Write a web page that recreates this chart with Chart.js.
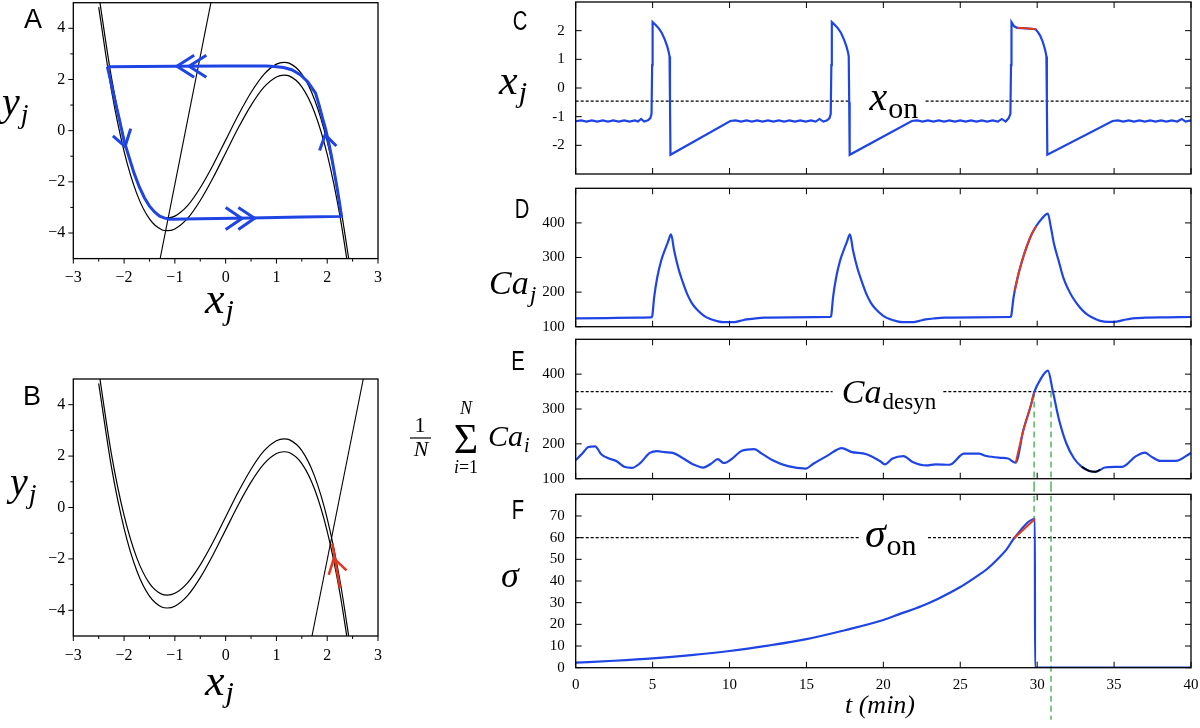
<!DOCTYPE html>
<html lang="en">
<head>
<meta charset="UTF-8">
<title>Phase plane and desynchronisation</title>
<script src="https://cdn.jsdelivr.net/npm/chart.js"></script>
<style>
  body { margin: 0; background: #fff; }
  #fig { position: relative; width: 1200px; height: 728px; overflow: hidden; }
  canvas { position: absolute; }
</style>
</head>
<body>
<div id="fig">
  <canvas id="chartA" width="400" height="330" style="left:0;top:0"></canvas>
  <canvas id="chartB" width="400" height="388" style="left:0;top:340px"></canvas>
  <canvas id="chartC" width="720" height="182" style="left:480px;top:0"></canvas>
  <canvas id="chartD" width="720" height="150" style="left:480px;top:182px"></canvas>
  <canvas id="chartE" width="800" height="155" style="left:400px;top:332px"></canvas>
  <canvas id="chartF" width="720" height="241" style="left:480px;top:487px"></canvas>
</div>
<script>
// ---- phase plane (A, B) ----
const phaseXTicks = [-3, -2, -1, 0, 1, 2, 3];
const phaseYTicks = [-4, -2, 0, 2, 4];
const cubicX     = [-2.5, -2.25, -2, -1.75, -1.5, -1.25, -1.15, -1, -0.75, -0.5, -0.25, 0, 0.25, 0.5, 0.75, 1, 1.15, 1.25, 1.5, 1.75, 2, 2.25, 2.45];
const cubicUpper = [5.33, 2.09, -0.31, -1.96, -2.95, -3.38, -3.41, -3.34, -2.93, -2.23, -1.35, -0.37, 0.61, 1.49, 2.19, 2.60, 2.67, 2.64, 2.21, 1.22, -0.43, -2.83, -5.35];
const cubicLower = [4.83, 1.59, -0.81, -2.46, -3.45, -3.88, -3.91, -3.84, -3.43, -2.73, -1.85, -0.87, 0.11, 0.99, 1.69, 2.10, 2.17, 2.14, 1.71, 0.72, -0.93, -3.33, -5.85];
const nullAX = [-1.29, -0.29];
const nullBX = [1.70, 2.71];
const nullY  = [-5, 5];

const orbitX = [-2.33, -2.27, -2.2, -2.1, -2.0, -1.9, -1.8, -1.7, -1.6, -1.5, -1.4, -1.3, -1.2, -1.1,
  -0.5, 0.5, 1.5, 2.28, 2.24, 2.2, 2.16, 2.12, 2.08, 2.03, 1.97, 1.9, 1.84, 1.77, 1.62, 1.47, 1.3, 1.14, 0.95, 0.81, 0, -1, -2.33];
const orbitY = [2.5, 2.0, 1.35, 0.5, -0.4, -1.05, -1.68, -2.2, -2.62, -2.95, -3.18, -3.34, -3.42, -3.46,
  -3.44, -3.41, -3.37, -3.35, -2.8, -2.3, -1.85, -1.4, -0.95, -0.48, 0.05, 0.55, 1.0, 1.47, 1.9, 2.19, 2.38, 2.47, 2.51, 2.53, 2.53, 2.52, 2.5];
const chevronAX = [[-0.62, -0.96, -0.62], [-0.38, -0.72, -0.38], [0.0, 0.32, 0.0], [0.25, 0.57, 0.25], [-2.22, -1.98, -1.87], [1.85, 1.96, 2.18]];
const chevronAY = [[2.95, 2.52, 2.09], [2.95, 2.52, 2.09], [-3.0, -3.43, -3.86], [-3.0, -3.42, -3.86], [-0.2, -0.62, 0.08], [-0.78, -0.16, -0.6]];
const redBX = [2.25, 2.2, 2.15, 2.1];
const redBY = [-3.12, -2.55, -1.95, -1.4];
const chevronBX = [2.03, 2.13, 2.38];
const chevronBY = [-2.62, -1.98, -2.45];

// ---- time courses (C-F) ----
const timeTicks = [0, 5, 10, 15, 20, 25, 30, 35, 40];
const cTicks = [-2, -1, 0, 1, 2];
const caTicks = [100, 200, 300, 400];
const sigmaTicks = [0, 10, 20, 30, 40, 50, 60, 70];

const cT = [0, 0.35, 0.7, 1.05, 1.4, 1.75, 2.1, 2.45, 2.8, 3.15, 3.5, 3.85, 4.05, 4.25, 4.45, 4.7, 4.85, 4.93,
  4.97, 5.0, 5.2, 5.4, 5.6, 5.8, 5.95, 6.05, 6.1, 6.13, 6.16, 10.05,
  10.4, 10.75, 11.1, 11.45, 11.8, 12.15, 12.5, 12.85, 13.2, 13.55, 13.9, 14.25, 14.6, 14.95, 15.3, 15.6, 15.85, 16.1, 16.35, 16.5, 16.58,
  16.62, 16.65, 16.85, 17.05, 17.25, 17.45, 17.6, 17.7, 17.75, 17.78, 17.81, 21.85,
  22.2, 22.55, 22.9, 23.25, 23.6, 23.95, 24.3, 24.65, 25.0, 25.35, 25.7, 26.05, 26.4, 26.75, 27.1, 27.45, 27.7, 27.95, 28.15, 28.26,
  28.3, 28.33, 28.5, 28.7, 29.3, 29.9, 30.05, 30.2, 30.35, 30.47, 30.55, 30.6, 30.63, 30.66, 34.9,
  35.25, 35.6, 35.95, 36.3, 36.65, 37.0, 37.35, 37.7, 38.05, 38.4, 38.75, 39.1, 39.4, 39.65, 40];
const cX = [-1.16, -1.13, -1.17, -1.13, -1.17, -1.13, -1.17, -1.13, -1.17, -1.13, -1.17, -1.13, -1.17, -1.08, -1.17, -1.13, -1.05, -0.9,
  0.8, 2.3, 2.2, 2.08, 1.92, 1.68, 1.45, 1.25, 1.1, -0.5, -2.33, -1.15,
  -1.13, -1.17, -1.13, -1.17, -1.13, -1.17, -1.13, -1.17, -1.13, -1.17, -1.13, -1.17, -1.13, -1.17, -1.13, -1.17, -1.08, -1.17, -1.13, -1.05, -0.9,
  0.8, 2.3, 2.2, 2.08, 1.92, 1.68, 1.45, 1.25, 1.1, -0.5, -2.33, -1.15,
  -1.13, -1.17, -1.13, -1.17, -1.13, -1.17, -1.13, -1.17, -1.13, -1.17, -1.13, -1.17, -1.13, -1.17, -1.13, -1.17, -1.08, -1.17, -1.05, -0.9,
  0.8, 2.3, 2.15, 2.10, 2.08, 2.05, 1.95, 1.82, 1.63, 1.42, 1.25, 1.1, -0.5, -2.33, -1.15,
  -1.13, -1.17, -1.13, -1.17, -1.13, -1.17, -1.13, -1.17, -1.13, -1.17, -1.13, -1.17, -1.08, -1.17, -1.13];
const cRedT = [28.7, 29.0, 29.3, 29.6, 29.9];
const cRedX = [2.10, 2.09, 2.08, 2.07, 2.05];
const xOn = -0.46;

const dT = [0, 2, 4, 4.9, 4.97, 5.1, 5.3, 5.55, 5.8, 6.0, 6.2, 6.4, 6.66, 6.95, 7.25, 7.55, 7.85, 8.3, 8.75, 9.2,
  9.6, 10.2, 10.7, 11.1, 11.7, 12.3, 14, 16.5, 16.6, 16.73, 16.93, 17.18, 17.43, 17.63, 17.83, 18.03, 18.3, 18.6, 18.9, 19.2,
  19.5, 19.95, 20.4, 20.85, 21.25, 21.85, 22.35, 22.75, 23.35, 24, 26, 28.25, 28.3, 28.45, 28.54, 28.8, 29.05, 29.35, 29.64, 29.94,
  30.3, 30.69, 30.9, 31.1, 31.4, 31.7, 32.0, 32.3, 32.75, 33.2, 33.65, 34.1, 34.6, 35.0, 35.6, 36.2, 37, 38.5, 40];
const dCa = [124, 125, 126, 127, 130, 185, 242, 290, 322, 345, 367, 320, 271, 230, 194, 168, 151, 133, 122, 116,
  113, 113, 117, 121, 124, 126, 127, 128, 130, 185, 242, 290, 322, 345, 367, 320, 271, 230, 194, 168,
  151, 133, 122, 116, 113, 113, 117, 121, 124, 126, 127, 128, 130, 180, 204, 255, 295, 335, 367, 391,
  412, 427, 385, 338, 290, 242, 210, 185, 157, 137, 125, 117, 114, 114, 119, 124, 126, 127, 128];
const dRedT = [28.54, 28.8, 29.05, 29.35, 29.64, 29.94];
const dRedCa = [204, 255, 295, 335, 367, 391];

const eT = [0, 0.43, 0.83, 1.26, 1.66, 2.16, 2.66, 3.16, 3.65, 4.15, 4.82, 5.3, 5.8, 6.3, 7.0, 7.64, 8.3, 8.8, 9.24, 9.63,
  10.1, 10.8, 11.6, 12.1, 12.8, 13.8, 14.95, 15.45, 16.4, 17.3, 17.9, 18.9, 19.8, 20.1, 20.6, 21.3, 21.9, 22.8, 23.4, 24.3,
  25.25, 26.2, 26.7, 27.6, 28.1, 28.6, 29.1, 29.6, 29.8, 30.2, 30.7, 31.0, 31.4, 31.9, 32.4, 32.9, 33.4, 33.8, 34.4, 35.05,
  35.5, 36.4, 37.0, 37.4, 38.0, 39.0, 40];
const eCa = [153, 172, 191, 193, 170, 158, 150, 134, 131, 143, 174, 179, 176, 174, 158, 141, 132, 143, 156, 145,
  155, 180, 185, 172, 153, 136, 129, 143, 167, 188, 177, 170, 150, 141, 158, 165, 148, 138, 141, 140,
  172, 172, 165, 160, 158, 146, 239, 312, 347, 384, 410, 355, 273, 201, 158, 134, 122, 120, 132, 134,
  134, 164, 175, 164, 151, 151, 174];
const eRedT = [28.6, 29.1, 29.6, 29.8];
const eRedCa = [146, 239, 312, 347];
const eBlackT = [32.9, 33.4, 33.8, 34.1];
const eBlackCa = [134, 122, 120, 126];
const caDesyn = 350;

const fT = [0, 2.5, 5, 7.5, 10, 12.5, 15, 17.5, 20, 21, 22.5, 23.5, 25, 26, 26.7, 27.55, 28, 28.5, 29.85, 29.86, 40];
const fSigma = [2.3, 3.2, 4.3, 5.8, 7.7, 10.2, 13.2, 17.3, 22, 24.6, 28.5, 31.6, 37.2, 41.8, 45.3, 51, 54.5, 59.7, 68.6, 0, 0];
const fRedT = [28.5, 29.85];
const fRedSigma = [59.7, 68.6];
const sigmaOn = 60;

const desynT = [29.8, 30.9];   // green markers

// ---- styling ----
const SERIF = '"Liberation Serif", "Times New Roman", serif';
Chart.defaults.font.family = SERIF;
const BLUE = '#1e45e4';
const RED = '#e4371c';
const GREEN = '#3aa84a';
const it = px => `italic ${px}px ${SERIF}`;
const rm = px => `${px}px ${SERIF}`;
const LETTER = '27px "Liberation Sans", Arial, sans-serif';

const pts = (xs, ys) => xs.map((x, i) => ({ x: x, y: ys[i] }));
const minusFmt = v => (v < 0 ? '\u2212' + (-v) : String(v));

function line(data, color, width, extra) {
  return Object.assign({ data: data, borderColor: color, borderWidth: width, pointRadius: 0,
    fill: false, tension: 0 }, extra || {});
}

function drawRuns(ctx, x, y, runs, align, sx) {
  sx = sx || 1;
  let w = 0;
  runs.forEach(r => { ctx.font = r.font; r.w = ctx.measureText(r.text).width * sx; w += r.w + (r.gap || 0); });
  let cx = align === 'center' ? x - w / 2 : x;
  runs.forEach(r => {
    ctx.font = r.font;
    cx += r.gap || 0;
    ctx.save();
    ctx.translate(cx, y + (r.dy || 0));
    ctx.scale(sx, 1);
    ctx.fillText(r.text, 0, 0);
    ctx.restore();
    cx += r.w;
  });
}

// frame, ticks and math labels
const decor = {
  id: 'decor',
  afterDatasetsDraw(chart, args, o) {
    const ctx = chart.ctx, a = chart.chartArea;
    const xs = chart.scales.x, ys = chart.scales.y;
    ctx.save();
    ctx.strokeStyle = '#000';
    ctx.lineWidth = 1.3;
    ctx.strokeRect(a.left, a.top, a.right - a.left, a.bottom - a.top);
    ctx.lineWidth = 1;
    ctx.beginPath();
    const L = o.len || 6;
    if (o.inward) {
      xs.ticks.forEach(t => {
        const p = xs.getPixelForValue(t.value);
        ctx.moveTo(p, a.bottom); ctx.lineTo(p, a.bottom - L);
        ctx.moveTo(p, a.top); ctx.lineTo(p, a.top + L);
      });
      ys.ticks.forEach(t => {
        const p = ys.getPixelForValue(t.value);
        ctx.moveTo(a.left, p); ctx.lineTo(a.left + L, p);
        ctx.moveTo(a.right, p); ctx.lineTo(a.right - L, p);
      });
    } else {
      xs.ticks.forEach(t => { const p = xs.getPixelForValue(t.value); ctx.moveTo(p, a.bottom); ctx.lineTo(p, a.bottom + L); });
      ys.ticks.forEach(t => { const p = ys.getPixelForValue(t.value); ctx.moveTo(a.left, p); ctx.lineTo(a.left - L, p); });
      (o.minorX || []).forEach(v => { const p = xs.getPixelForValue(v); ctx.moveTo(p, a.bottom); ctx.lineTo(p, a.bottom + 3); });
      (o.minorY || []).forEach(v => { const p = ys.getPixelForValue(v); ctx.moveTo(a.left, p); ctx.lineTo(a.left - 3, p); });
    }
    ctx.stroke();
    ctx.fillStyle = '#000';
    ctx.textBaseline = 'alphabetic';
    ctx.textAlign = 'left';
    (o.labels || []).forEach(l => {
      let x = l.x, y = l.y;
      if (l.tx !== undefined) { x = xs.getPixelForValue(l.tx); y = ys.getPixelForValue(l.ty) + (l.dy || 0); }
      if (l.rule) {
        ctx.beginPath(); ctx.lineWidth = 1.2;
        ctx.moveTo(l.rule[0], l.rule[2]); ctx.lineTo(l.rule[1], l.rule[2]); ctx.stroke();
        return;
      }
      drawRuns(ctx, x, y, l.runs, l.align, l.sx);
    });
    ctx.restore();
  }
};

function makeChart(id, c) {
  const tickFont = { family: SERIF, size: c.tickSize || 15 };
  return new Chart(document.getElementById(id), {
    type: 'line',
    data: { datasets: c.datasets },
    options: {
      responsive: false,
      animation: false,
      events: [],
      layout: { autoPadding: false, padding: c.pad },
      plugins: { legend: { display: false }, tooltip: { enabled: false }, decor: c.decor },
      elements: { point: { radius: 0 } },
      scales: {
        x: {
          type: 'linear', min: c.xMin, max: c.xMax,
          afterBuildTicks: s => { s.ticks = c.xTicks.map(v => ({ value: v })); },
          afterFit: s => { s.height = c.xHeight; s.paddingLeft = 0; s.paddingRight = 0; },
          grid: { display: false, drawTicks: false }, border: { display: false },
          ticks: { display: !!c.xLabels, padding: c.xPad || 8, color: '#000', font: tickFont,
            callback: v => (c.fmt ? c.fmt(v) : String(v)) }
        },
        y: {
          type: 'linear', min: c.yMin, max: c.yMax,
          afterBuildTicks: s => { s.ticks = c.yTicks.map(v => ({ value: v })); },
          afterFit: s => { s.width = c.yWidth; s.paddingTop = 0; s.paddingBottom = 0; },
          grid: { display: false, drawTicks: false }, border: { display: false },
          ticks: { padding: c.yPad || 11, color: '#000', font: tickFont,
            callback: v => (c.fmt ? c.fmt(v) : String(v)) }
        }
      }
    },
    plugins: [decor]
  });
}

function hline(v, from, to) {
  return line([{ x: from, y: v }, { x: to, y: v }], '#000', 1.3, { borderDash: [3, 2], order: 5 });
}

const halfSteps = [-2.5, -1.5, -0.5, 0.5, 1.5, 2.5];
const oddSteps = [-3, -1, 1, 3];
const xjTitle = [{ text: 'x', font: it(44) }, { text: 'j', font: it(30), dy: 7, gap: 1 }];
const yjTitle = [{ text: 'y', font: it(40) }, { text: 'j', font: it(28), dy: 8, gap: 1 }];
const letter = (x, y, t, sx) => ({ x: x, y: y, align: 'center', sx: sx, runs: [{ text: t, font: LETTER }] });

// ---- A ----
makeChart('chartA', {
  xMin: -3, xMax: 3, yMin: -5, yMax: 5, xTicks: phaseXTicks, yTicks: phaseYTicks,
  yWidth: 73.3, xHeight: 71.4, pad: { left: 0, top: 2.7, right: 22, bottom: 0 },
  xLabels: true, xPad: 10, yPad: 8, tickSize: 16, fmt: minusFmt,
  datasets: [
    ...chevronAX.map((xs, i) => line(pts(xs, chevronAY[i]), BLUE, 3, { order: 0 })),
    line(pts(orbitX, orbitY), BLUE, 3, { order: 1 }),
    line(pts(cubicX, cubicUpper), '#000', 1.2, { cubicInterpolationMode: 'monotone', order: 2 }),
    line(pts(cubicX, cubicLower), '#000', 1.2, { cubicInterpolationMode: 'monotone', order: 2 }),
    line(pts(nullAX, nullY), '#000', 1.1, { order: 2 })
  ],
  decor: {
    len: 5, minorX: halfSteps, minorY: oddSteps,
    labels: [
      letter(33, 28, 'A'),
      { x: 205, y: 313, runs: xjTitle },
      { x: 2, y: 115, runs: yjTitle }
    ]
  }
});

// ---- B ----
makeChart('chartB', {
  xMin: -3, xMax: 3, yMin: -5, yMax: 5, xTicks: phaseXTicks, yTicks: phaseYTicks,
  yWidth: 73.3, xHeight: 92, pad: { left: 0, top: 39, right: 22, bottom: 0 },
  xLabels: true, xPad: 10, yPad: 8, tickSize: 16, fmt: minusFmt,
  datasets: [
    line(pts(chevronBX, chevronBY), RED, 2.5, { order: 0 }),
    line(pts(redBX, redBY), RED, 2.5, { order: 0 }),
    line(pts(cubicX, cubicUpper), '#000', 1.2, { cubicInterpolationMode: 'monotone', order: 2 }),
    line(pts(cubicX, cubicLower), '#000', 1.2, { cubicInterpolationMode: 'monotone', order: 2 }),
    line(pts(nullBX, nullY), '#000', 1.1, { order: 2 })
  ],
  decor: {
    len: 5, minorX: halfSteps, minorY: oddSteps,
    labels: [
      letter(32, 65, 'B'),
      { x: 205, y: 355, runs: xjTitle },
      { x: 10, y: 155, runs: yjTitle }
    ]
  }
});

// ---- C ----
makeChart('chartC', {
  xMin: 0, xMax: 40, yMin: -3, yMax: 3, xTicks: timeTicks, yTicks: cTicks,
  yWidth: 95.7, xHeight: 8, pad: { left: 0, top: 2, right: 9, bottom: 0 },
  datasets: [
    line(pts(cRedT, cRedX), RED, 2, { order: 0 }),
    line(pts(cT, cX), BLUE, 2.2, { order: 1 }),
    hline(xOn, 0, 17.8), hline(xOn, 22.75, 40)
  ],
  decor: {
    inward: true, len: 6,
    labels: [
      letter(40, 30, 'C', 0.75),
      { x: 19, y: 94, runs: [{ text: 'x', font: it(42) }, { text: 'j', font: it(30), dy: 8, gap: 1 }] },
      { tx: 19.1, ty: xOn, dy: 9, runs: [{ text: 'x', font: it(40) }, { text: 'on', font: rm(30), dy: 8, gap: 1 }] }
    ]
  }
});

// ---- D ----
makeChart('chartD', {
  xMin: 0, xMax: 40, yMin: 100, yMax: 500, xTicks: timeTicks, yTicks: caTicks,
  yWidth: 95.7, xHeight: 5.3, pad: { left: 0, top: 6.3, right: 9, bottom: 0 },
  datasets: [
    line(pts(dRedT, dRedCa), RED, 2, { cubicInterpolationMode: 'monotone', order: 0 }),
    line(pts(dT, dCa), BLUE, 2.2, { cubicInterpolationMode: 'monotone', order: 1 })
  ],
  decor: {
    inward: true, len: 6,
    labels: [
      letter(42, 36, 'D', 0.75),
      { x: 9, y: 112, runs: [{ text: 'Ca', font: it(34) }, { text: 'j', font: it(24), dy: 8, gap: 1 }] }
    ]
  }
});

// ---- E ----
makeChart('chartE', {
  xMin: 0, xMax: 40, yMin: 100, yMax: 500, xTicks: timeTicks, yTicks: caTicks,
  yWidth: 175.7, xHeight: 8.3, pad: { left: 0, top: 7.3, right: 9, bottom: 0 },
  datasets: [
    line(pts(eRedT, eRedCa), RED, 1.8, { cubicInterpolationMode: 'monotone', order: 0 }),
    line(pts(eBlackT, eBlackCa), '#000', 1.8, { cubicInterpolationMode: 'monotone', order: 0 }),
    line(pts(eT, eCa), BLUE, 2.2, { cubicInterpolationMode: 'monotone', order: 1 }),
    hline(caDesyn, 0, 16.7), hline(caDesyn, 23.9, 40),
    ...desynT.map(t => line([{ x: t, y: caDesyn }, { x: t, y: 75 }], GREEN, 1.3,
      { borderDash: [6, 4], clip: false, order: 3 }))
  ],
  decor: {
    inward: true, len: 6,
    labels: [
      letter(118, 38, 'E', 0.75),
      { x: 20, y: 100, align: 'center', runs: [{ text: '1', font: rm(22) }] },
      { rule: [10, 31, 106] },
      { x: 21, y: 124, align: 'center', runs: [{ text: 'N', font: it(22) }] },
      { x: 66, y: 121, align: 'center', runs: [{ text: '\u03A3', font: rm(42) }] },
      { x: 66, y: 82, align: 'center', runs: [{ text: 'N', font: it(18) }] },
      { x: 66, y: 141, align: 'center', runs: [{ text: 'i', font: it(18) }, { text: '=1', font: rm(18) }] },
      { x: 88, y: 114, runs: [{ text: 'Ca', font: it(30) }, { text: 'i', font: it(20), dy: 6, gap: 1 }] },
      { tx: 17.3, ty: caDesyn, dy: 11, runs: [{ text: 'Ca', font: it(34) }, { text: 'desyn', font: rm(23), dy: 6, gap: 1 }] }
    ]
  }
});

// ---- F ----
makeChart('chartF', {
  xMin: 0, xMax: 40, yMin: 0, yMax: 80, xTicks: timeTicks, yTicks: sigmaTicks,
  yWidth: 95.7, xHeight: 60.3, pad: { left: 0, top: 7.3, right: 9, bottom: 0 },
  xLabels: true, xPad: 8,
  datasets: [
    line(pts(fRedT, fRedSigma), RED, 2, { order: 0 }),
    line(pts(fT, fSigma), BLUE, 2.2, { cubicInterpolationMode: 'monotone', order: 1 }),
    hline(sigmaOn, 0, 18.4), hline(sigmaOn, 22.9, 40),
    line([{ x: desynT[0], y: 84 }, { x: desynT[0], y: 66 }], GREEN, 1.3, { borderDash: [6, 4], clip: false, order: 3 }),
    line([{ x: desynT[1], y: 84 }, { x: desynT[1], y: -24 }], GREEN, 1.3, { borderDash: [6, 4], clip: false, order: 3 })
  ],
  decor: {
    inward: true, len: 6,
    labels: [
      letter(38, 32, 'F', 0.75),
      { x: 30, y: 100, align: 'center', runs: [{ text: '\u03C3', font: it(36) }] },
      { tx: 18.8, ty: sigmaOn, dy: 9, runs: [{ text: '\u03C3', font: it(42) }, { text: 'on', font: rm(30), dy: 8, gap: 1 }] },
      { x: 400, y: 226, align: 'center', runs: [{ text: 't (min)', font: it(26) }] }
    ]
  }
});
</script>
</body>
</html>
